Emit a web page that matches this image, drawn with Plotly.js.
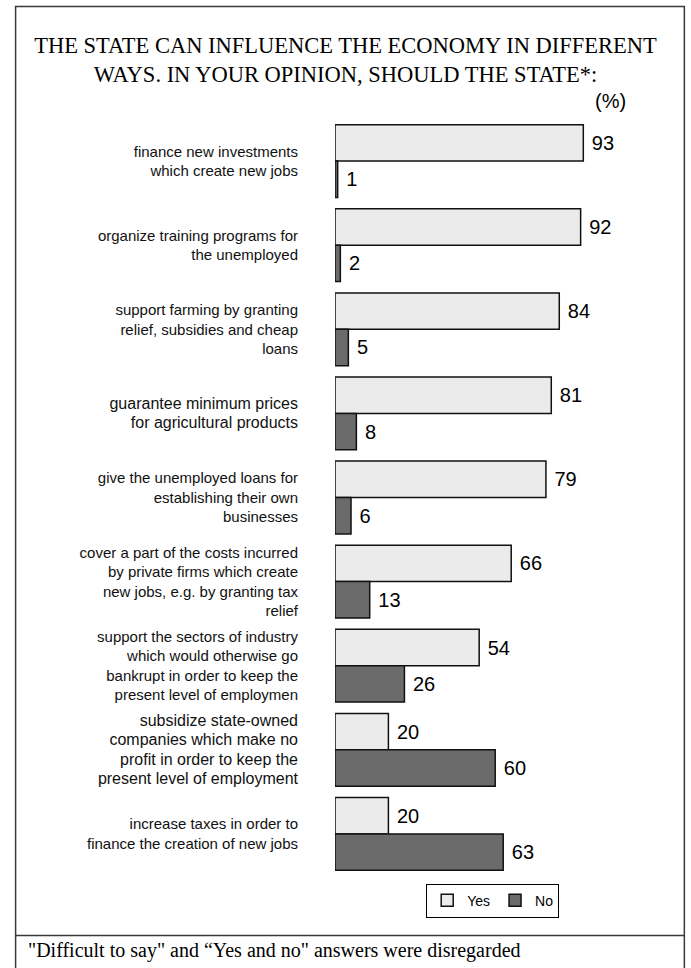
<!DOCTYPE html>
<html>
<head>
<meta charset="utf-8">
<script src="https://cdn.plot.ly/plotly-3.0.1.min.js"></script>
<style>html,body{margin:0;padding:0;background:#fff;}#chart{width:691px;height:968px;}</style>
</head>
<body>
<div id="chart"></div>
<script>
// ---- data ----
const categories = [
  "finance new investments<br>which create new jobs",
  "organize training programs for<br>the unemployed",
  "support farming by granting<br>relief, subsidies and cheap<br>loans",
  "guarantee minimum prices<br>for agricultural products",
  "give the unemployed loans for<br>establishing their own<br>businesses",
  "cover a part of the costs incurred<br>by private firms which create<br>new jobs, e.g. by granting tax<br>relief",
  "support the sectors of industry<br>which would otherwise go<br>bankrupt in order to keep the<br>present level of employmen",
  "subsidize state-owned<br>companies which make no<br>profit in order to keep the<br>present level of employment",
  "increase taxes in order to<br>finance the creation of new jobs"
];
const yesValues = [93, 92, 84, 81, 79, 66, 54, 20, 20];
const noValues  = [1, 2, 5, 8, 6, 13, 26, 60, 63];
const seriesNames = ["Yes", "No"];
const titleText = "THE STATE CAN INFLUENCE THE ECONOMY IN DIFFERENT<br>WAYS. IN YOUR OPINION, SHOULD THE STATE*:";
const unitText = "(%)";
const footnoteText = "\"Difficult to say\" and \u201cYes and no\" answers were disregarded";

// ---- layout geometry ----
const W = 691, H = 968;
const ml = 335, mr = 88.5, mt = 118.6, mb = 91.6;
const plotW = W - ml - mr, plotH = H - mt - mb;
const px = v => (v - ml) / plotW;
const py = v => 1 - (v - mt) / plotH;

const SANS = "Liberation Sans, Arial, sans-serif";
const SERIF = "Liberation Serif, Times New Roman, serif";
const bigLabels = new Set([3, 7]);
const tickText = categories.map((c, i) => bigLabels.has(i)
  ? c.split("<br>").map(s => '<span style="font-size:16px">' + s + '</span>').join("<br>")
  : c);
const tickVals = categories.map(c => c);

const barLine = {color: "#111", width: 1.5};
const traces = [
  {type: "bar", orientation: "h", name: seriesNames[0], y: categories, x: yesValues,
   marker: {color: "#ebebeb", line: barLine},
   texttemplate: "\u00a0%{x}", textposition: "outside", cliponaxis: false,
   textfont: {family: SANS, size: 20, color: "#000"}, hoverinfo: "x+name"},
  {type: "bar", orientation: "h", name: seriesNames[1], y: categories, x: noValues,
   marker: {color: "#6b6b6b", line: barLine},
   texttemplate: "\u00a0%{x}", textposition: "outside", cliponaxis: false,
   textfont: {family: SANS, size: 20, color: "#000"}, hoverinfo: "x+name"}
];

const borderCol = "#3a3a3a";
const layout = {
  width: W, height: H,
  margin: {l: ml, r: mr, t: mt, b: mb, pad: 0},
  paper_bgcolor: "#fff", plot_bgcolor: "#fff",
  font: {family: SANS, color: "#111"},
  barmode: "group", bargap: 0.135, bargroupgap: 0,
  title: {text: titleText, font: {family: SERIF, size: 22.5, color: "#000"},
          x: 0.5, xanchor: "center", xref: "container", y: 1 - 53/H, yanchor: "top", yref: "container"},
  xaxis: {range: [0, 100], visible: false, fixedrange: true},
  yaxis: {type: "category", autorange: "reversed", tickmode: "array", tickvals: tickVals, ticktext: tickText,
          ticks: "", showline: false, showgrid: false, zeroline: false, ticklabelstandoff: 36,
          tickfont: {family: SANS, size: 15, color: "#111"}, fixedrange: true},
  showlegend: true,
  legend: {orientation: "h", x: px(493), y: py(901), xanchor: "center", yanchor: "middle",
           bordercolor: "#000", borderwidth: 1, bgcolor: "#fff",
           font: {family: SANS, size: 14, color: "#000"}, itemwidth: 30, traceorder: "normal"},
  annotations: [
    {text: unitText, xref: "paper", yref: "paper", x: px(611), y: py(101), xanchor: "center", yanchor: "middle",
     showarrow: false, font: {family: SANS, size: 20, color: "#000"}},
    {text: footnoteText, xref: "paper", yref: "paper", x: px(25), y: py(951), xanchor: "left", yanchor: "middle",
     showarrow: false, font: {family: SERIF, size: 20, color: "#000"}}
  ],
  shapes: [
    {type: "rect", xref: "paper", yref: "paper", x0: px(15), x1: px(685), y0: py(6), y1: py(980),
     line: {color: borderCol, width: 1.5}, fillcolor: "rgba(0,0,0,0)", layer: "below"},
    {type: "line", xref: "paper", yref: "paper", x0: px(15), x1: px(685), y0: py(936), y1: py(936),
     line: {color: borderCol, width: 1.5}}
  ]
};

Plotly.newPlot("chart", traces, layout, {displayModeBar: false, staticPlot: true});
</script>
</body>
</html>
